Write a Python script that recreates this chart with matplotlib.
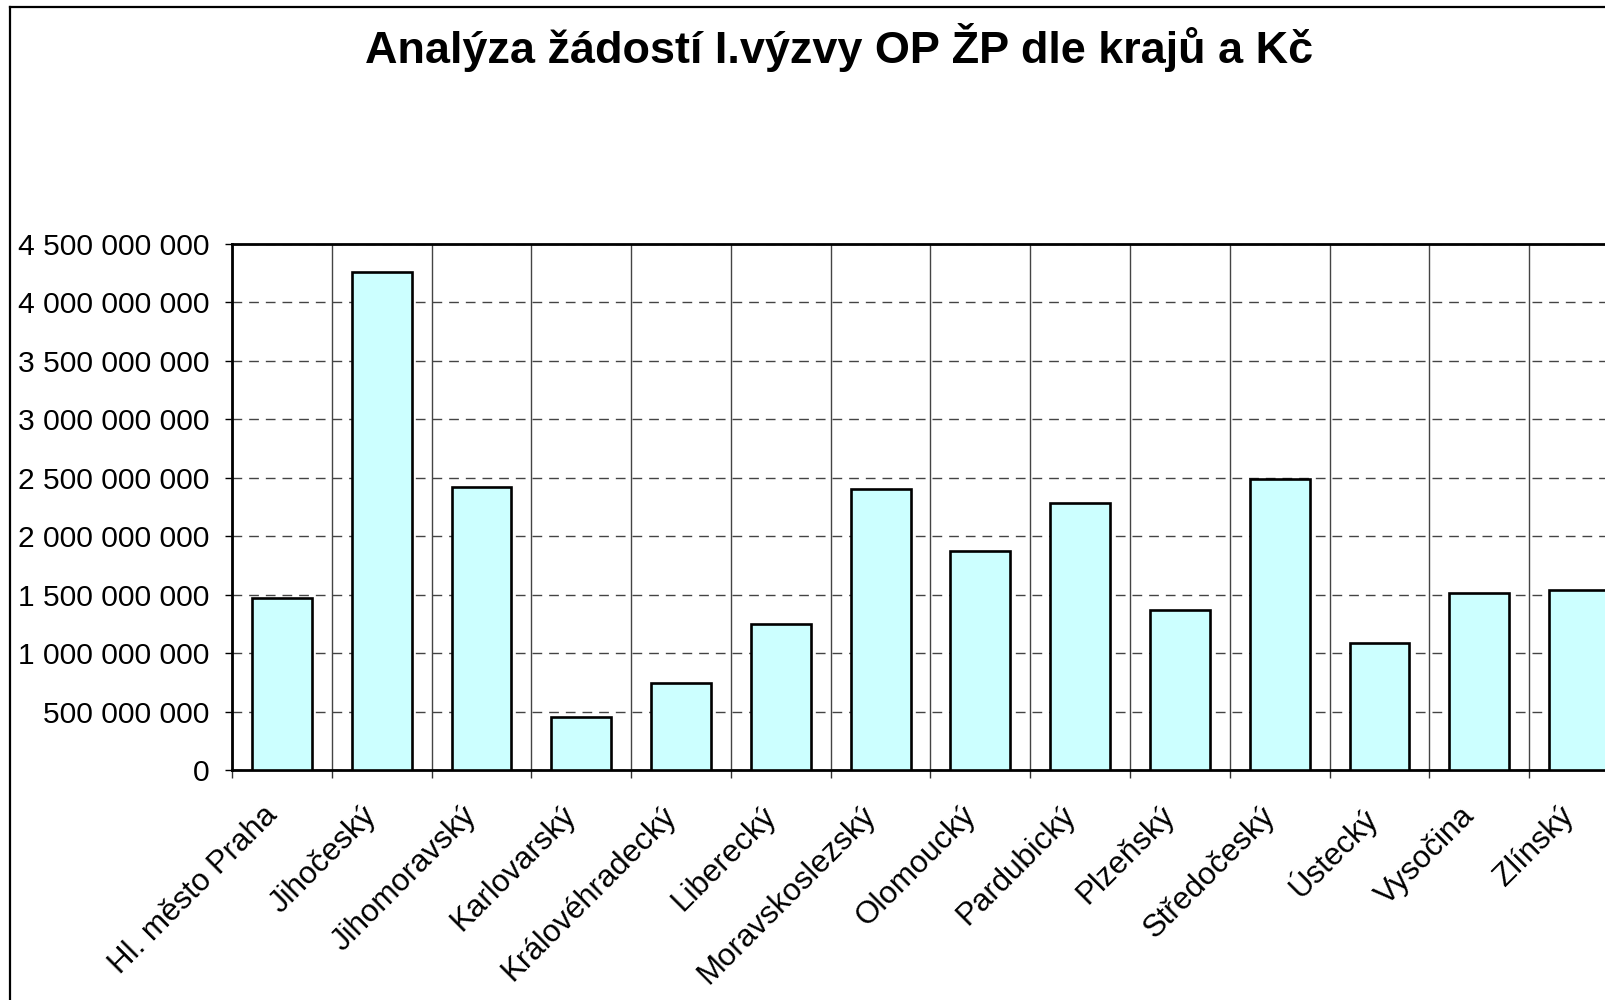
import matplotlib.pyplot as plt
from matplotlib.lines import Line2D
from matplotlib.ticker import FuncFormatter, FixedLocator
from matplotlib.transforms import ScaledTranslation

plt.rcParams["font.family"] = ["Liberation Sans", "DejaVu Sans"]

REGIONS = [
    "Hl. město Praha",
    "Jihočeský",
    "Jihomoravský",
    "Karlovarský",
    "Královéhradecký",
    "Liberecký",
    "Moravskoslezský",
    "Olomoucký",
    "Pardubický",
    "Plzeňský",
    "Středočeský",
    "Ústecký",
    "Vysočina",
    "Zlínský",
]
AMOUNTS = [
    1.47e9, 4.264e9, 2.425e9, 0.455e9, 0.744e9, 1.252e9, 2.408e9,
    1.874e9, 2.285e9, 1.366e9, 2.487e9, 1.086e9, 1.515e9, 1.541e9,
]
Y_TICKS = [i * 500_000_000 for i in range(10)]

TITLE = "Analýza žádostí I.výzvy OP ŽP dle krajů a Kč"
BAR_COLOR = "#ccffff"


def space_thousands(value, pos):
    return f"{int(round(value)):,}".replace(",", " ")


fig = plt.figure(figsize=(16.05, 10), dpi=100)
fig.patch.set_facecolor("white")

# plot area runs past the right edge, like the source screenshot
ax = fig.add_axes([232 / 1605, 230 / 1000, 1397 / 1605, 526 / 1000])

positions = list(range(len(REGIONS)))
ax.bar(positions, AMOUNTS, width=0.6, color=BAR_COLOR, edgecolor="black",
       linewidth=1.9, zorder=3)

ax.set_xlim(-0.5, len(REGIONS) - 0.5)
ax.set_ylim(0, 4_500_000_000)

ax.set_yticks(Y_TICKS)
ax.yaxis.set_major_formatter(FuncFormatter(space_thousands))
ax.set_xticks(positions)
ax.set_xticklabels(REGIONS, rotation=45, ha="right", va="top", rotation_mode="anchor")
ax.xaxis.set_minor_locator(FixedLocator([p - 0.5 for p in range(len(REGIONS) + 1)]))

ax.tick_params(axis="y", labelsize=21.6, length=5, width=1, pad=11, colors="black")
ax.tick_params(axis="x", which="major", labelsize=22.5, length=0, pad=22)
ax.tick_params(axis="x", which="minor", length=5.5, width=1, color="#333333")

# nudge the slanted labels left so they end just under each tick
shift = ScaledTranslation(-0.2, 0, fig.dpi_scale_trans)
for label in ax.get_xticklabels():
    label.set_transform(label.get_transform() + shift)

ax.grid(axis="y", which="major", linestyle=(0, (7, 5)), color="#444444", linewidth=1, zorder=1)
ax.grid(axis="x", which="minor", linestyle="-", color="#444444", linewidth=1, zorder=1)

for spine in ax.spines.values():
    spine.set_linewidth(2)
    spine.set_color("black")

fig.text(820 / 1568, 1 - 48 / 1000, TITLE, ha="center", va="center",
         fontsize=32.4, fontweight="bold")

# chart-area border, only left and top visible
fig.add_artist(Line2D([10 / 1605, 10 / 1605], [0, 1 - 7 / 1000], color="black", linewidth=1.6,
                      transform=fig.transFigure))
fig.add_artist(Line2D([10 / 1605, 1], [1 - 7 / 1000, 1 - 7 / 1000], color="black", linewidth=1.6,
                      transform=fig.transFigure))

fig.savefig("out.png", dpi=100)
